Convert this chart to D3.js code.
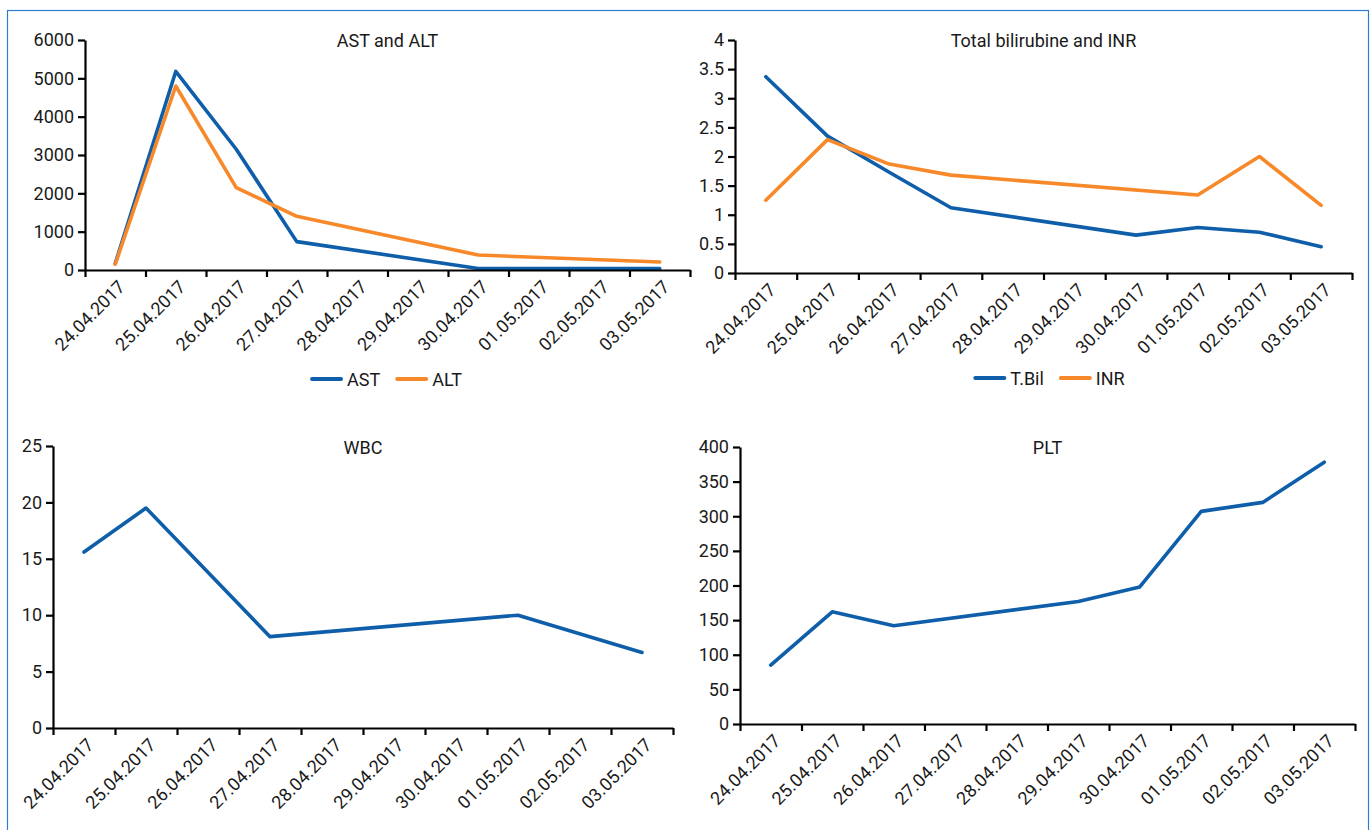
<!DOCTYPE html>
<html>
<head>
  <meta charset="utf-8">
  <title>Liver panel</title>
  <script src="https://d3js.org/d3.v7.min.js"></script>
  <style>
    body { margin: 0; background: #fff; }
    text { font-family: Roboto, "Noto Sans", sans-serif; fill: #1a1a1a; }
  </style>
</head>
<body>
<div id="chart"></div>

<script type="text/javascript">
  const dates = ['24.04.2017', '25.04.2017', '26.04.2017', '27.04.2017', '28.04.2017',
                 '29.04.2017', '30.04.2017', '01.05.2017', '02.05.2017', '03.05.2017'];

  const ast  = [170, 5180, 3150, 740, null, null, 40, null, null, 40];
  const alt  = [150, 4800, 2150, 1400, null, null, 390, null, null, 210];
  const tbil = [3.37, 2.35, 1.73, 1.12, null, null, 0.65, 0.78, 0.70, 0.45];
  const inr  = [1.25, 2.29, 1.87, 1.68, null, null, null, 1.34, 2.00, 1.16];
  const wbc  = [15.6, 19.5, null, 8.1, null, null, null, 10.0, null, 6.7];
  const plt  = [85, 162, 142, null, null, 177, 198, 307, 320, 378];

  const ticksLiver = [0, 1000, 2000, 3000, 4000, 5000, 6000];
  const ticksBil   = [0, 0.5, 1, 1.5, 2, 2.5, 3, 3.5, 4];
  const ticksWbc   = [0, 5, 10, 15, 20, 25];
  const ticksPlt   = [0, 50, 100, 150, 200, 250, 300, 350, 400];

  const blue = '#0f5eaa';
  const orange = '#f7892a';

  const W = 1372, H = 830;

  let svg = d3.select('#chart')
    .append('svg')
      .attr('width', W)
      .attr('height', H);

  // thin blue frame round the whole figure
  svg.append('rect')
     .attr('x', 7.5).attr('y', 10.5)
     .attr('width', 1361).attr('height', 840)
     .attr('fill', 'none')
     .attr('stroke', '#2e7cd0')
     .attr('stroke-width', 1.2);

  const panels = [
    {title: 'AST and ALT', x0: 85, x1: 690, yTop: 40, yBot: 270, ticks: ticksLiver,
     series: [{name: 'AST', values: ast, color: blue}, {name: 'ALT', values: alt, color: orange}],
     titleY: 47, legendY: 379, legendX: 387},
    {title: 'Total bilirubine and INR', x0: 735, x1: 1352, yTop: 40, yBot: 273, ticks: ticksBil,
     series: [{name: 'T.Bil', values: tbil, color: blue}, {name: 'INR', values: inr, color: orange}],
     titleY: 47, legendY: 378, legendX: 1050},
    {title: 'WBC', x0: 53, x1: 673, yTop: 446, yBot: 728, ticks: ticksWbc,
     series: [{name: 'WBC', values: wbc, color: blue}],
     titleY: 454},
    {title: 'PLT', x0: 740, x1: 1355, yTop: 447, yBot: 724, ticks: ticksPlt,
     series: [{name: 'PLT', values: plt, color: blue}],
     titleY: 454}
  ];

  panels.forEach(p => {
    let g = svg.append('g');

    let x = d3.scaleBand().domain(dates).range([p.x0, p.x1]);
    let xEdge = d3.scaleLinear().domain([0, dates.length]).range([p.x0, p.x1]);
    let y = d3.scaleLinear().domain([0, d3.max(p.ticks)]).range([p.yBot, p.yTop]);

    // title
    g.append('text')
     .attr('x', (p.x0 + p.x1) / 2)
     .attr('y', p.titleY)
     .attr('text-anchor', 'middle')
     .attr('font-size', '18px')
     .text(p.title);

    // lines (gaps are bridged, as in the original)
    let line = d3.line()
      .x(d => x(d.date) + x.bandwidth() / 2)
      .y(d => y(d.v));

    p.series.forEach(s => {
      let pts = dates.map((d, i) => ({date: d, v: s.values[i]})).filter(d => d.v != null);
      g.append('path')
       .datum(pts)
       .attr('fill', 'none')
       .attr('stroke', s.color)
       .attr('stroke-width', 3.6)
       .attr('stroke-linejoin', 'round')
       .attr('stroke-linecap', 'round')
       .attr('d', line);
    });

    // y axis
    let yAxis = d3.axisLeft(y)
      .tickValues(p.ticks)
      .tickSize(7)
      .tickSizeOuter(0)
      .tickPadding(4)
      .tickFormat(d3.format('~g'));
    let ya = g.append('g')
      .attr('transform', `translate(${p.x0},0)`)
      .call(yAxis);
    ya.selectAll('text').attr('font-size', '18px').attr('font-family', 'Roboto').attr('fill', '#1a1a1a');
    ya.selectAll('line, path').attr('stroke', '#000').attr('stroke-width', 2.2);

    // x axis: ticks on category edges
    let xAxis = d3.axisBottom(xEdge)
      .tickValues(d3.range(dates.length + 1))
      .tickSize(7)
      .tickSizeOuter(0)
      .tickFormat('');
    let xa = g.append('g')
      .attr('transform', `translate(0,${p.yBot})`)
      .call(xAxis);
    xa.selectAll('line, path').attr('stroke', '#000').attr('stroke-width', 2.2);

    // date labels, rotated
    g.selectAll('.dlab')
     .data(dates)
     .enter()
     .append('text')
     .attr('class', 'dlab')
     .attr('text-anchor', 'end')
     .attr('font-size', '18px')
     .attr('transform', d => `translate(${x(d) + x.bandwidth() / 2 + 11},${p.yBot + 18}) rotate(-45)`)
     .text(d => d);

    // legend
    if (p.legendY) {
      let lg = g.append('g');
      let cx = 0;
      p.series.forEach((s, i) => {
        let item = lg.append('g').attr('transform', `translate(${cx},0)`);
        item.append('line')
            .attr('x1', 0).attr('x2', 29)
            .attr('y1', 0).attr('y2', 0)
            .attr('stroke', s.color)
            .attr('stroke-width', 4)
            .attr('stroke-linecap', 'round');
        let t = item.append('text')
            .attr('x', 35)
            .attr('y', 6.5)
            .attr('font-size', '18px')
            .text(s.name);
        cx += 35 + t.node().getComputedTextLength() + 17;
      });
      let w = cx - 17;
      lg.attr('transform', `translate(${p.legendX - w / 2},${p.legendY})`);
    }
  });
</script>
</body>
</html>
